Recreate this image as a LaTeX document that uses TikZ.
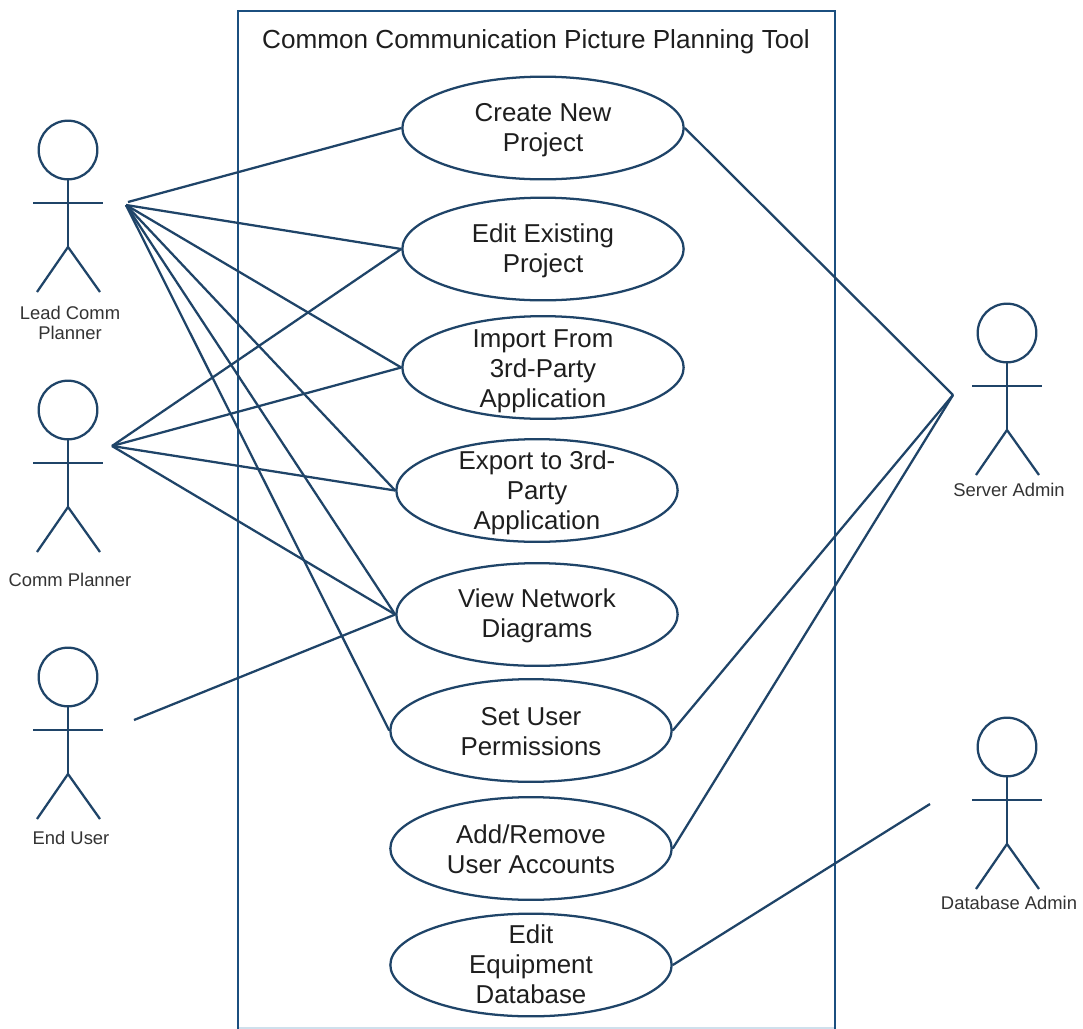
\documentclass[tikz,border=0pt]{standalone}
\usepackage{fontspec}
\setmainfont{Liberation Sans}
\usetikzlibrary{shapes.geometric}
\definecolor{ink}{HTML}{1F4468}
\definecolor{frameink}{HTML}{1B4F7F}
\definecolor{labelink}{HTML}{333333}
\definecolor{textink}{HTML}{1E1E1E}
\definecolor{paleedge}{HTML}{CFE0EC}
\tikzset{
  x=0.75pt,y=-0.75pt,
  conn/.style={draw=ink,line width=1.7pt},
  usecase/.style={ellipse,draw=ink,line width=1.7pt,minimum width=211pt,minimum height=77pt,inner sep=-30pt,font=\fontsize{19.4}{22.5}\selectfont,text=textink},
  head/.style={circle,draw=ink,line width=1.7pt,minimum size=44pt,inner sep=0pt},
  actorlabel/.style={font=\fontsize{13.8}{15.5}\selectfont,align=center,text=labelink},
  boundary/.style={draw=frameink,line width=1.9pt},
}
\newcommand{\caselines}[2]{\raisebox{-#1pt}[\height][\depth]{\begin{tabular}{@{}c@{}}#2\end{tabular}}}
\newcommand{\actor}[3]{% name, head x, head y
  \node[head] (#1) at (#2,#3) {};
  \coordinate (#1neck) at (#1.south);
  \coordinate (#1hip) at (#2,#3+97);
  \coordinate (#1arml) at (#2-35,#3+53);
  \coordinate (#1armr) at (#2+35,#3+53);
  \coordinate (#1legl) at (#2-31,#3+142);
  \coordinate (#1legr) at (#2+32,#3+142);
  \draw[conn] (#1neck) -- (#1hip);
  \draw[conn] (#1arml) -- (#1armr);
  \draw[conn,line join=round] (#1legl) -- (#1hip) -- (#1legr);
}
\begin{document}
\begin{tikzpicture}
\useasboundingbox (0,0) rectangle (1083,1029);
\fill[white] (0,0) rectangle (1083,1029);
\draw[paleedge,line width=1.2pt] (238,1028) -- (835,1028);
\draw[boundary] (238,1032) -- (238,11) -- (835,11) -- (835,1032);
\node[font=\fontsize{19.6}{22}\selectfont,text=textink] (title) at (536,42) {Common Communication Picture Planning Tool};
\node[usecase] (create) at (543,128) {\caselines{1.5}{Create New\\Project}};
\node[usecase] (edit) at (543,249) {\caselines{1.8}{Edit Existing\\Project}};
\node[usecase] (import) at (543,367.5) {\caselines{3}{Import From\\3rd-Party\\Application}};
\node[usecase] (export) at (537,490.5) {\caselines{2.3}{Export to 3rd-\\Party\\Application}};
\node[usecase] (view) at (537,614.5) {\caselines{1.5}{View Network\\Diagrams}};
\node[usecase] (set) at (531,730.5) {\caselines{3.1}{Set User\\Permissions}};
\node[usecase] (add) at (531,848.5) {\caselines{3.1}{Add/Remove\\User Accounts}};
\node[usecase] (equip) at (531,965) {\caselines{2.2}{Edit\\Equipment\\Database}};
\actor{lead}{68}{150}
\actor{comm}{68}{410}
\actor{enduser}{68}{677}
\actor{server}{1007}{333}
\actor{dba}{1007}{747}
\node[actorlabel] (leadlabel) at (70,323) {Lead Comm\\Planner};
\node[actorlabel] (commlabel) at (70,580) {Comm Planner};
\node[actorlabel] (endlabel) at (71,838) {End User};
\node[actorlabel] (serverlabel) at (1009,490) {Server Admin};
\node[actorlabel] (dbalabel) at (1009,903) {Database Admin};
\coordinate (leadtop) at (128,202);
\coordinate (leadc) at (126,205);
\coordinate (commc) at (112,446);
\coordinate (endc) at (134,720);
\coordinate (serverc) at (953,395);
\coordinate (dbac) at (930,804);
\draw[conn] (leadtop) -- (create.west);
\foreach \t in {edit,import,export,view,set}
  \draw[conn] (leadc) -- (\t.west);
\foreach \t in {edit,import,export,view}
  \draw[conn] (commc) -- (\t.west);
\draw[conn] (endc) -- (view.west);
\foreach \t in {create,set,add}
  \draw[conn] (serverc) -- (\t.east);
\draw[conn] (dbac) -- (equip.east);
\end{tikzpicture}
\end{document}
